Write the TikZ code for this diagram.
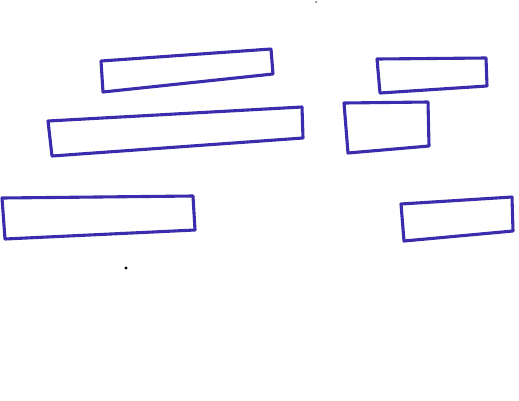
\documentclass[tikz,border=0pt]{standalone}
\definecolor{ink}{RGB}{58,44,172}
\begin{document}
\begin{tikzpicture}[x=1pt,y=-1pt,
  sketch/.style={draw=ink,line width=3.1pt,line join=round,line cap=round}]
\useasboundingbox (0,0) rectangle (519,400);
\fill[white] (0,0) rectangle (519,400);
\draw[sketch] (101,61) -- (271,49) -- (273,74) -- (103,92) -- cycle;
\draw[sketch] (48,121) -- (302,107) -- (303,138) -- (52,156) -- cycle;
\draw[sketch] (2,198) -- (193,196) -- (195,230) -- (5,239) -- cycle;
\draw[sketch] (377,59) -- (486,58) -- (487,86) -- (380,93) -- cycle;
\draw[sketch] (344,103) -- (428,102) -- (429,146) -- (348,153) -- cycle;
\draw[sketch] (401,204) -- (512,197) -- (513,231) -- (404,241) -- cycle;
\fill[black] (126,268) circle (1.6);
\fill[black!60] (316,2) circle (1);
\end{tikzpicture}
\end{document}
